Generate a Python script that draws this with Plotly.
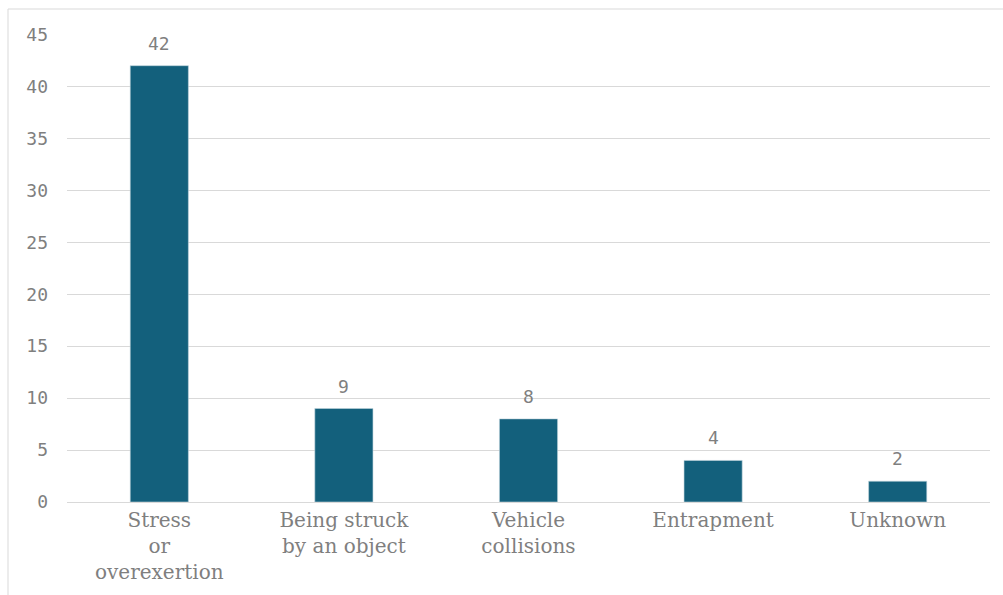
import plotly.graph_objects as go

categories = ["Stress<br>or<br>overexertion", "Being struck<br>by an object", "Vehicle<br>collisions", "Entrapment", "Unknown"]
values = [42, 9, 8, 4, 2]
y_ticks = [0, 5, 10, 15, 20, 25, 30, 35, 40, 45]

bar_color = "#13607C"
text_gray = "#7F7F7F"
num_font = "DejaVu Sans Mono"
serif_font = "DejaVu Serif"

fig = go.Figure(
    go.Bar(
        x=categories,
        y=values,
        marker=dict(color=bar_color, line=dict(color="#BFD3DC", width=0.6)),
        cliponaxis=False,
        width=0.315,
    )
)

for c, v in zip(categories, values):
    fig.add_annotation(
        x=c, y=v, text=str(v), showarrow=False,
        yanchor="bottom", yshift=10,
        font=dict(family=num_font, size=18, color=text_gray),
    )

fig.update_layout(
    width=1003,
    height=595,
    margin=dict(l=67, r=13, t=34, b=93),
    paper_bgcolor="white",
    plot_bgcolor="white",
    showlegend=False,
    xaxis=dict(
        showgrid=False,
        showline=True,
        linecolor="#D9D9D9",
        linewidth=1,
        ticks="",
        automargin=False,
        tickfont=dict(family=serif_font, size=20, color=text_gray),
    ),
    yaxis=dict(
        range=[0, 45.05],
        tickvals=y_ticks,
        showgrid=True,
        gridcolor="#D9D9D9",
        gridwidth=1,
        zeroline=False,
        ticks="",
        automargin=False,
        tickfont=dict(family=num_font, size=18, color=text_gray),
        ticklabelstandoff=18,
    ),
    shapes=[
        dict(
            type="rect", xref="paper", yref="paper",
            x0=(8 - 67) / 923, x1=(1010 - 67) / 923,
            y0=(502 - 610) / 468, y1=(502 - 9) / 468,
            line=dict(color="#D9D9D9", width=1),
            fillcolor="rgba(0,0,0,0)",
            layer="below",
        )
    ],
)

fig.write_html("out.html")
